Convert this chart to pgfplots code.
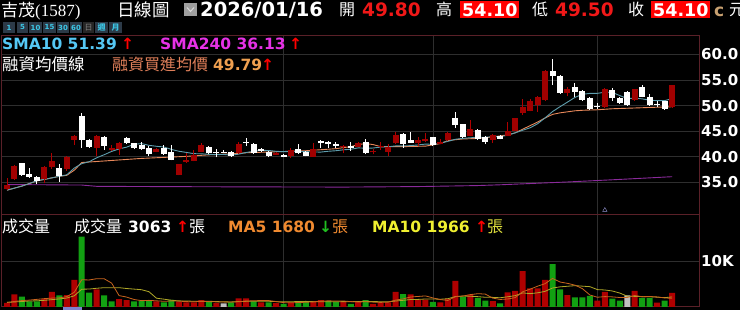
\documentclass[border=0pt]{standalone}
\usepackage{fontspec}
\setmainfont{DejaVu Sans}
\newfontfamily\cjk{Noto Sans CJK TC}
\newfontfamily\lser{Liberation Serif}
\usepackage{pgfplots}
\usepackage{pgfplotstable}
\pgfplotsset{compat=1.18}

\definecolor{candred}{HTML}{A00000}
\definecolor{wickred}{HTML}{B00000}
\definecolor{volred}{HTML}{B00000}
\definecolor{volgreen}{HTML}{12A012}
\definecolor{volgray}{HTML}{C0C0C0}
\definecolor{gridc}{HTML}{2E2E2E}
\definecolor{border}{HTML}{5A2028}
\definecolor{smacyan}{HTML}{5F9FAF}
\definecolor{mgorange}{HTML}{E8885A}
\definecolor{smapurple}{HTML}{8A2A9A}
\definecolor{ma5c}{HTML}{C8641E}
\definecolor{ma10c}{HTML}{B0A828}
\definecolor{txtblue}{HTML}{55C8F5}
\definecolor{txtmag}{HTML}{E632E6}
\definecolor{txtorg}{HTML}{E0805A}
\definecolor{txtorg2}{HTML}{F0A050}
\definecolor{ma5t}{HTML}{F08A30}
\definecolor{ma10t}{HTML}{F0F030}
\definecolor{hdrred}{HTML}{F01818}
\definecolor{boxred}{HTML}{FF0000}
\definecolor{btnbg}{HTML}{2C3A48}
\definecolor{btntxt}{HTML}{3CC8E8}
\definecolor{cbrown}{HTML}{C8A070}
\definecolor{upgreen}{HTML}{20C020}

\pgfplotstableread{
i o c h l
0 33.7 34.6 35.8 33.5
1 35.7 38.2 38.4 35.5
5 35.7 38.0 38.2 34.85
6 38.0 39.1 40.7 37.7
8 37.6 40.0 40.2 37.3
9 43.3 44.1 44.3 42.3
12 41.8 44.1 44.3 40.2
14 41.35 41.7 42.3 41.2
15 41.5 42.8 43.0 40.4
20 41.0 41.55 41.7 40.9
23 36.5 38.55 38.7 36.4
24 39.05 39.4 40.7 38.9
25 39.25 40.4 41.35 39.1
26 41.0 42.3 42.7 40.9
31 40.7 42.45 42.85 40.5
36 40.4 40.7 40.9 40.3
38 40.2 41.35 41.8 39.7
41 40.05 41.5 42.65 40.0
45 41.95 42.1 42.3 40.7
47 42.0 42.8 42.9 41.9
49 40.9 41.1 41.5 40.5
50 41.9 42.1 42.9 41.4
51 41.0 42.0 42.6 40.2
52 42.8 44.3 44.9 42.6
55 42.8 43.3 43.9 42.2
56 43.1 43.4 44.6 43.0
58 42.6 42.9 43.4 42.5
59 43.2 44.7 44.8 43.1
62 44.1 45.4 47.3 44.0
65 43.3 44.3 44.5 42.8
67 44.1 45.1 46.9 44.0
68 45.1 47.5 47.6 45.0
69 48.6 49.8 51.4 48.2
70 49.0 51.0 51.3 48.9
71 50.1 51.75 51.9 48.8
72 51.1 56.8 56.9 51.0
75 52.4 53.2 53.7 51.8
80 49.8 53.2 53.4 49.6
84 51.1 53.2 53.3 51.0
89 49.8 54.1 54.1 49.5
}\redc

\pgfplotstableread{
i o c h l
2 38.75 36.5 38.9 36.3
3 36.7 36.1 37.8 35.9
4 36.0 35.2 36.2 34.7
7 37.8 36.3 38.55 35.15
10 48.0 43.3 48.5 41.8
11 43.3 42.0 43.5 41.8
13 43.95 42.1 44.1 41.35
16 43.6 42.65 43.95 42.5
17 42.65 41.7 42.8 41.5
18 42.3 41.55 43.0 41.4
19 41.7 40.55 42.2 40.2
21 41.7 40.55 42.3 40.4
22 41.0 39.4 42.3 39.3
27 42.0 40.7 42.1 40.5
28 41.05 40.9 41.5 39.9
29 41.0 40.88 41.3 40.7
30 41.0 40.2 41.2 40.0
32 42.85 42.7 43.75 42.1
33 42.5 40.8 42.7 40.6
34 41.5 41.2 41.8 40.9
35 40.9 40.2 41.2 39.9
37 40.4 40.05 40.6 39.9
39 41.5 40.7 42.5 40.6
40 40.9 40.2 41.1 40.1
42 43.1 42.65 43.2 41.7
43 43.0 42.5 43.1 41.7
44 42.5 42.1 43.0 41.7
46 42.1 41.7 43.0 41.2
48 43.0 40.7 43.5 40.5
53 44.5 42.5 44.6 41.8
54 43.3 42.8 44.9 42.7
57 43.8 42.3 43.9 42.2
60 47.5 46.2 48.8 45.6
61 46.4 43.8 46.5 43.7
63 45.25 43.4 45.4 43.3
64 43.95 42.95 44.1 42.5
66 44.1 43.5 44.3 43.4
73 56.8 55.8 59.1 54.0
74 55.8 52.5 56.0 52.3
76 53.7 52.7 54.5 51.6
77 52.9 51.1 53.1 50.9
78 51.45 49.35 51.6 49.2
79 50.0 49.88 50.5 49.35
81 53.06 51.45 53.4 50.9
82 51.45 50.5 51.6 50.4
83 52.7 50.1 52.9 50.0
85 53.7 51.75 54.0 51.6
86 51.75 50.1 52.2 50.0
87 50.3 50.18 50.9 49.8
88 50.9 49.35 51.0 49.2
}\whitec

\pgfplotstableread{
i v
0 0.9
1 2.75
5 1.7
6 3.3
8 2.6
9 5.9
12 3.85
15 1.7
16 1.5
20 1.2
23 1.1
24 1.0
25 1.0
26 1.5
28 0.85
31 1.9
32 1.9
34 1.0
36 0.85
38 1.0
41 1.3
42 1.5
45 1.3
47 1.1
49 0.7
50 1.0
51 1.0
52 3.3
54 2.75
55 1.6
56 1.6
58 1.0
59 1.8
60 5.7
62 2.7
65 1.3
67 3.2
68 3.5
69 7.8
70 4.05
71 4.05
72 5.9
75 2.6
79 1.4
80 3.3
84 3.5
87 0.95
89 3.063
}\volr

\pgfplotstableread{
i v
2 2.25
3 1.2
4 1.2
7 2.5
10 15.3
11 3.1
13 2.55
14 1.2
17 1.2
18 1.3
19 1.5
21 1.0
22 1.55
27 1.2
30 1.0
33 1.2
35 1.0
37 0.7
39 1.3
40 1.3
43 1.3
44 1.1
46 0.7
48 1.5
53 2.8
57 1.1
61 2.25
63 2.0
64 1.4
66 0.8
73 9.3
74 3.85
76 2.1
77 2.1
78 2.4
81 1.8
82 1.4
85 2.0
86 2.0
88 1.4
}\volg

\pgfplotstableread{
i v
29 0.8
83 2.5
}\volgr

\pgfplotsset{
  panel/.style={
    scale only axis, width=697pt,
    xmin=-0.67, xmax=92.6,
    axis background/.style={fill=black},
    axis line style={draw=border, line width=1pt},
    xtick={37,57,79}, xticklabels={},
    xmajorgrids, ymajorgrids,
    major tick length=0pt,
    grid style={draw=gridc, line width=0.8pt},
    yticklabel pos=right,
    yticklabel style={font=\fontsize{15}{15}\selectfont\bfseries, text=white,
      anchor=west, inner sep=0pt, xshift=2pt},
  },
  wick/.style={draw=none, mark=none, forget plot,
    error bars/.cd, y dir=plus, y explicit, error mark=none,
    error bar style={draw=#1, line width=1pt}},
  body/.style={draw=none, mark=none, forget plot,
    error bars/.cd, y dir=plus, y explicit, error mark=none,
    error bar style={draw=#1, line width=6pt}},
}

\newcommand\T[5]{\node[anchor=base west,inner sep=0pt,text=#4] at (#1pt,#2pt) {\fontsize{#3}{#3}\selectfont #5};}

\begin{document}
\begin{tikzpicture}
\path[use as bounding box] (0pt,0pt) rectangle (740pt,310pt);
\fill[black] (0pt,0pt) rectangle (740pt,310pt);
\begin{scope}
\clip (0pt,0pt) rectangle (740pt,310pt);

% ---------------- price panel
\begin{axis}[panel, at={(2pt,95pt)}, anchor=south west, height=179pt,
  ymin=28.65, ymax=63.61, ytick={35,40,45,50,55,60},
  yticklabels={35.0,40.0,45.0,50.0,55.0,60.0}]
\addplot[smapurple, line width=0.9pt, mark=none] coordinates {
(0,34.6)(10,34.5)(12,34.25)(20,34.2)(30,34.15)(45,34.1)(55,34.2)(63,34.4)(66,34.55)(75,35.1)(82,35.6)(89,36.13)};
\addplot[mgorange, line width=0.9pt, mark=none] coordinates {
(0,33.5)(1,33.9)(2,34.3)(3,34.8)(4,35.3)(5,35.6)(6,35.9)(7,36.2)(8,36.4)(9,37.4)(10,38.9)(11,39.0)(12,39.1)(14,39.3)(16,39.5)(18,39.7)(21,39.9)(24,40.1)(27,40.4)(30,40.6)(32,40.8)(36,41.0)(40,41.2)(44,41.6)(46,42.0)(47,42.4)(48,42.6)(49,42.4)(50,42.0)(53,42.0)(56,42.1)(58,42.6)(59,43.2)(61,43.5)(63,43.6)(65,43.9)(67,44.3)(68,44.7)(69,45.4)(70,46.1)(71,46.8)(72,47.6)(73,48.3)(74,48.6)(75,48.8)(76,49.0)(77,49.1)(79,49.2)(81,49.4)(83,49.5)(85,49.6)(87,49.7)(89,49.79)};
\addplot[smacyan, line width=0.9pt, mark=none] coordinates {
(0,33.5)(1,33.9)(2,34.3)(3,34.8)(4,35.35)(5,35.6)(6,35.9)(7,36.2)(8,36.5)(9,37.81)(10,38.68)(11,39.06)(12,39.82)(13,40.42)(14,41.07)(15,41.55)(16,41.9)(17,42.45)(18,42.6)(19,42.25)(20,42.07)(21,41.93)(22,41.46)(23,41.1)(24,40.87)(25,40.63)(26,40.6)(27,40.5)(28,40.44)(29,40.47)(30,40.34)(31,40.53)(32,40.86)(33,41.09)(34,41.27)(35,41.25)(36,41.09)(37,41.02)(38,41.06)(39,41.04)(40,41.04)(41,40.95)(42,40.94)(43,41.1)(44,41.2)(45,41.38)(46,41.48)(47,41.76)(48,41.69)(49,41.73)(50,41.92)(51,41.97)(52,42.14)(53,42.14)(54,42.2)(55,42.33)(56,42.5)(57,42.45)(58,42.67)(59,43.03)(60,43.44)(61,43.62)(62,43.73)(63,43.82)(64,43.84)(65,43.94)(66,43.95)(67,44.23)(68,44.69)(69,45.2)(70,45.68)(71,46.47)(72,47.61)(73,48.85)(74,49.8)(75,50.7)(76,51.62)(77,52.22)(78,52.4)(79,52.41)(80,52.63)(81,52.6)(82,51.97)(83,51.4)(84,51.47)(85,51.33)(86,51.07)(87,50.98)(88,50.98)(89,51.39)};
% wicks
\addplot[wick=wickred] table[x=i, y=l, y error expr=\thisrow{h}-\thisrow{l}] {\redc};
\addplot[wick=white] table[x=i, y=l, y error expr=\thisrow{h}-\thisrow{l}] {\whitec};
% bodies
\addplot[body=candred] table[x=i, y=o, y error expr=\thisrow{c}-\thisrow{o}] {\redc};
\addplot[body=white] table[x=i, y=c, y error expr=\thisrow{o}-\thisrow{c}] {\whitec};
\addplot[only marks, mark=triangle, mark size=2.6pt, draw=gray!60!blue!60] coordinates {(80,29.6)};
\end{axis}

% ---------------- volume panel
\begin{axis}[panel, at={(2pt,3pt)}, anchor=south west, height=92pt,
  ymin=0, ymax=20, ytick={10}, yticklabels={10K}]
\addplot[ybar, bar width=6pt, bar shift=0pt, fill=volred, draw=none] table[x=i, y=v] {\volr};
\addplot[ybar, bar width=6pt, bar shift=0pt, fill=volgreen, draw=none] table[x=i, y=v] {\volg};
\addplot[ybar, bar width=6pt, bar shift=0pt, fill=volgray, draw=none] table[x=i, y=v] {\volgr};
\addplot[ma10c, line width=0.8pt, mark=none] coordinates {
(0,1.0)(1,1.1)(2,1.2)(3,1.3)(4,1.35)(5,1.45)(6,1.6)(7,1.75)(8,1.95)(9,2.43)(10,3.87)(11,3.9)(12,4.07)(13,4.2)(14,4.2)(15,4.2)(16,4.02)(17,3.89)(18,3.76)(19,3.32)(20,1.91)(21,1.7)(22,1.47)(23,1.33)(24,1.31)(25,1.24)(26,1.24)(27,1.24)(28,1.19)(29,1.12)(30,1.1)(31,1.19)(32,1.23)(33,1.24)(34,1.24)(35,1.24)(36,1.17)(37,1.12)(38,1.14)(39,1.19)(40,1.22)(41,1.16)(42,1.12)(43,1.13)(44,1.14)(45,1.17)(46,1.15)(47,1.19)(48,1.24)(49,1.18)(50,1.15)(51,1.12)(52,1.3)(53,1.45)(54,1.62)(55,1.65)(56,1.74)(57,1.74)(58,1.69)(59,1.8)(60,2.27)(61,2.39)(62,2.33)(63,2.25)(64,2.12)(65,2.09)(66,2.01)(67,2.22)(68,2.47)(69,3.07)(70,2.9)(71,3.08)(72,3.4)(73,4.13)(74,4.38)(75,4.51)(76,4.64)(77,4.53)(78,4.42)(79,3.78)(80,3.7)(81,3.48)(82,3.03)(83,2.35)(84,2.31)(85,2.25)(86,2.24)(87,2.13)(88,2.03)(89,2.19)};
\addplot[ma5c, line width=0.8pt, mark=none] coordinates {
(0,1.0)(1,1.2)(2,1.4)(3,1.5)(4,1.66)(5,1.82)(6,1.93)(7,1.98)(8,2.26)(9,3.2)(10,5.92)(11,5.88)(12,6.15)(13,6.14)(14,5.2)(15,2.48)(16,2.16)(17,1.63)(18,1.38)(19,1.44)(20,1.34)(21,1.24)(22,1.31)(23,1.27)(24,1.17)(25,1.13)(26,1.23)(27,1.16)(28,1.11)(29,1.07)(30,1.07)(31,1.15)(32,1.29)(33,1.36)(34,1.4)(35,1.4)(36,1.19)(37,0.95)(38,0.91)(39,0.97)(40,1.03)(41,1.12)(42,1.28)(43,1.34)(44,1.3)(45,1.3)(46,1.18)(47,1.1)(48,1.14)(49,1.06)(50,1.0)(51,1.06)(52,1.5)(53,1.76)(54,2.17)(55,2.29)(56,2.41)(57,1.97)(58,1.61)(59,1.42)(60,2.24)(61,2.37)(62,2.69)(63,2.89)(64,2.81)(65,1.93)(66,1.64)(67,1.74)(68,2.04)(69,3.32)(70,3.87)(71,4.52)(72,5.06)(73,6.22)(74,5.43)(75,5.14)(76,4.75)(77,3.99)(78,2.61)(79,2.12)(80,2.26)(81,2.2)(82,2.06)(83,2.08)(84,2.5)(85,2.24)(86,2.28)(87,2.19)(88,1.97)(89,1.88)};
\end{axis}

\fill[black!40!blue!50] (63pt,0pt) rectangle (82pt,2.6pt);

% ---------------- header
\T{1}{293}{17}{white}{\cjk 吉茂\lser(1587)}
\T{117}{293}{17.5}{white}{\cjk 日線圖}
\fill[gray!75] (184pt,294pt) rectangle (197pt,307pt);
\draw[gray!30, line width=1pt] (187pt,302.5pt) -- (190.5pt,298.5pt) -- (194pt,302.5pt);
\T{200}{293}{19.5}{white}{\bfseries 2026/01/16}
\T{339}{294}{16}{white}{\cjk 開}
\T{362}{293}{18.5}{hdrred}{\bfseries 49.80}
\T{436}{294}{16}{white}{\cjk 高}
\fill[boxred] (460pt,292pt) rectangle (519pt,309pt);
\T{462}{293}{17.5}{white}{\bfseries 54.10}
\T{532}{294}{16}{white}{\cjk 低}
\T{555}{293}{18.5}{hdrred}{\bfseries 49.50}
\T{628}{294}{16}{white}{\cjk 收}
\fill[boxred] (651pt,292pt) rectangle (710pt,309pt);
\T{653}{293}{17.5}{white}{\bfseries 54.10}
\T{714}{293}{17}{cbrown}{\bfseries c}
\T{729}{294}{16}{white}{\cjk 元}

% buttons
\foreach \a/\b/\t in {3/15/1, 17/28/5, 29/42/10, 43/56/15, 57/69/30, 70/82/60} {
  \fill[btnbg] (\a pt,277pt) rectangle (\b pt,288pt);
  \node[text=btntxt, inner sep=0pt, font=\fontsize{7}{7}\selectfont\bfseries] at ({(\a+\b)/2*1pt},282.5pt) {\t};
}
\fill[black!85] (83pt,277pt) rectangle (94pt,288pt);
\node[text=gray, inner sep=0pt, font=\fontsize{8}{8}\selectfont\cjk] at (88.5pt,282.5pt) {日};
\fill[btnbg] (95pt,277pt) rectangle (108pt,288pt);
\node[text=btntxt, inner sep=0pt, font=\fontsize{8}{8}\selectfont\cjk\bfseries] at (101.5pt,282.5pt) {週};
\fill[btnbg] (109pt,277pt) rectangle (122pt,288pt);
\node[text=btntxt, inner sep=0pt, font=\fontsize{8}{8}\selectfont\cjk\bfseries] at (115.5pt,282.5pt) {月};

% legend rows
\T{2}{260}{15.5}{txtblue}{\bfseries SMA10 51.39}
\T{121}{260}{15.5}{red}{\bfseries ↑}
\T{160}{260}{15.5}{txtmag}{\bfseries SMA240 36.13}
\T{289}{260}{15.5}{red}{\bfseries ↑}
\T{2}{239}{16.5}{white}{\cjk 融資均價線}
\T{112}{239}{16}{txtorg}{\cjk 融資買進均價}
\T{213}{239}{15.5}{txtorg2}{\bfseries 49.79}
\T{261}{239}{15.5}{red}{\bfseries ↑}

% volume legend
\T{2}{77}{16}{white}{\cjk 成交量}
\T{74}{77}{16}{white}{\cjk 成交量}
\T{128}{77}{15.5}{white}{\bfseries 3063}
\T{176}{77}{15.5}{red}{\bfseries ↑}
\T{189}{77}{16}{white}{\cjk 張}
\T{228}{77}{15.5}{ma5t}{\bfseries MA5 1680}
\T{319}{77}{15.5}{upgreen}{\bfseries ↓}
\T{332}{77}{16}{ma5t}{\cjk 張}
\T{372}{77}{15.5}{ma10t}{\bfseries MA10 1966}
\T{475}{77}{15.5}{red}{\bfseries ↑}
\T{487}{77}{16}{ma10t!85!gray}{\cjk 張}
\end{scope}
\end{tikzpicture}
\end{document}
